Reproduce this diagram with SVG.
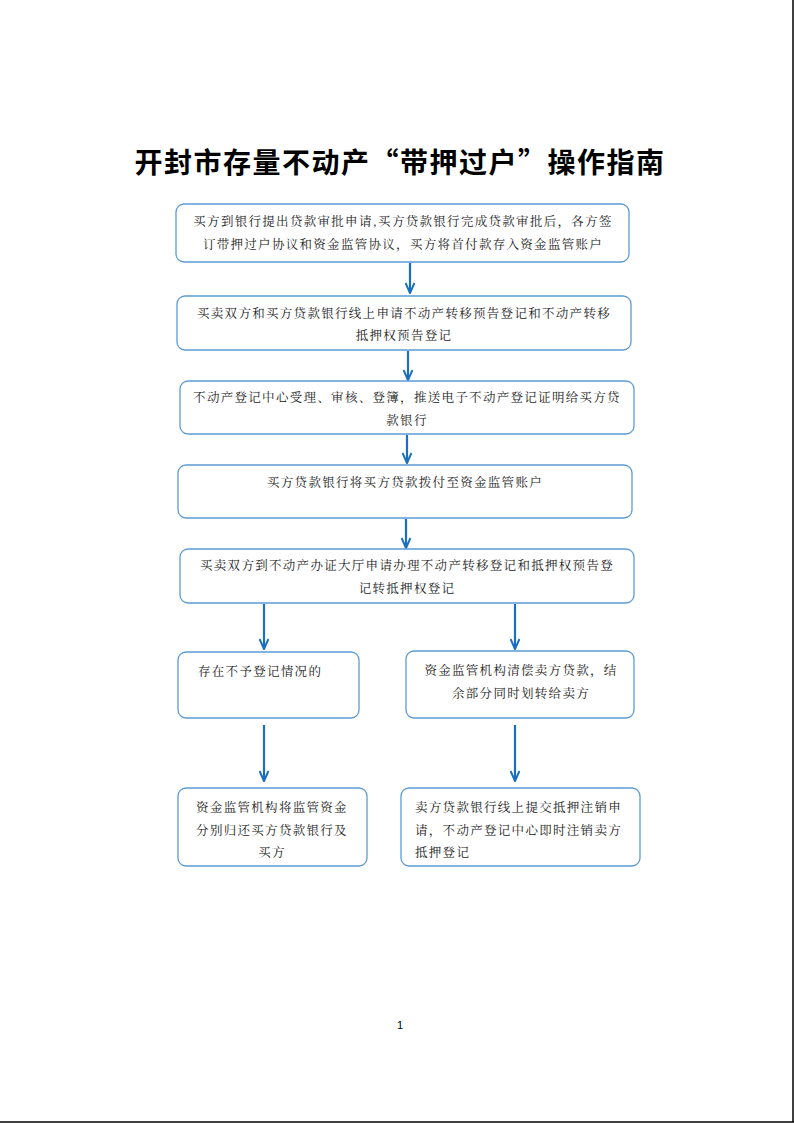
<svg xmlns="http://www.w3.org/2000/svg" width="794" height="1123" viewBox="0 0 794 1123">
<style>
.box{fill:#fff;stroke:#5b9bd5;stroke-width:1.3}
.t{font-family:"Noto Serif CJK SC","Noto Sans CJK SC",serif;font-size:12.5px;fill:#222;letter-spacing:1.3px}
.c{text-anchor:middle}
.title{font-family:"Noto Sans CJK SC",sans-serif;font-size:28px;font-weight:700;fill:#000;text-anchor:middle;letter-spacing:1.5px}
.arr{stroke:#1a6fc0;stroke-width:2.2;fill:none}
</style>
<defs>
<marker id="ah" viewBox="0 0 12 10" refX="11" refY="5" markerWidth="12" markerHeight="10" markerUnits="userSpaceOnUse" orient="auto">
<path d="M1,0.5 L11,5 L1,9.5" fill="none" stroke="#1a6fc0" stroke-width="2"/>
</marker>
</defs>
<rect width="794" height="1123" fill="#fff"/>
<line x1="793" y1="0" x2="793" y2="1122" stroke="#000" stroke-width="1.5"/>
<line x1="0" y1="1122" x2="794" y2="1122" stroke="#000" stroke-width="1.5"/>
<text class="title" x="400" y="173">开封市存量不动产“带押过户”操作指南</text>
<g id="connectors">
<line class="arr" x1="410" y1="263" x2="410" y2="293" marker-end="url(#ah)"/>
<line class="arr" x1="408" y1="351" x2="408" y2="380" marker-end="url(#ah)"/>
<line class="arr" x1="407" y1="435" x2="407" y2="463" marker-end="url(#ah)"/>
<line class="arr" x1="406" y1="519" x2="406" y2="548" marker-end="url(#ah)"/>
<line class="arr" x1="264" y1="604" x2="264" y2="649" marker-end="url(#ah)"/>
<line class="arr" x1="515" y1="604" x2="515" y2="649" marker-end="url(#ah)"/>
<line class="arr" x1="264" y1="725" x2="264" y2="781" marker-end="url(#ah)"/>
<line class="arr" x1="515" y1="725" x2="515" y2="781" marker-end="url(#ah)"/>
</g>
<g id="n1">
<rect class="box" x="176" y="204" width="453" height="58" rx="8"/>
<text class="t c" x="403" y="226">买方到银行提出贷款审批申请,买方贷款银行完成贷款审批后，各方签</text>
<text class="t c" x="403" y="249">订带押过户协议和资金监管协议，买方将首付款存入资金监管账户</text>
</g>
<g id="n2">
<rect class="box" x="177" y="296" width="454" height="54" rx="8"/>
<text class="t c" x="404" y="318">买卖双方和买方贷款银行线上申请不动产转移预告登记和不动产转移</text>
<text class="t c" x="404" y="340">抵押权预告登记</text>
</g>
<g id="n3">
<rect class="box" x="180" y="381" width="454" height="53" rx="8"/>
<text class="t c" x="407" y="402">不动产登记中心受理、审核、登簿，推送电子不动产登记证明给买方贷</text>
<text class="t c" x="407" y="425">款银行</text>
</g>
<g id="n4">
<rect class="box" x="178" y="465" width="454" height="53" rx="8"/>
<text class="t c" x="405" y="487">买方贷款银行将买方贷款拨付至资金监管账户</text>
</g>
<g id="n5">
<rect class="box" x="180" y="549" width="454" height="54" rx="8"/>
<text class="t c" x="407" y="570">买卖双方到不动产办证大厅申请办理不动产转移登记和抵押权预告登</text>
<text class="t c" x="407" y="593">记转抵押权登记</text>
</g>
<g id="n6l">
<rect class="box" x="178" y="652" width="181" height="66" rx="8"/>
<text class="t" x="198" y="676">存在不予登记情况的</text>
</g>
<g id="n6r">
<rect class="box" x="406" y="651" width="228" height="67" rx="8"/>
<text class="t c" x="521" y="675">资金监管机构清偿卖方贷款，结</text>
<text class="t c" x="521" y="698">余部分同时划转给卖方</text>
</g>
<g id="n7l">
<rect class="box" x="178" y="788" width="189" height="78" rx="8"/>
<text class="t c" x="272" y="812">资金监管机构将监管资金</text>
<text class="t c" x="272" y="835">分别归还买方贷款银行及</text>
<text class="t c" x="272" y="857">买方</text>
</g>
<g id="n7r">
<rect class="box" x="401" y="788" width="239" height="78" rx="8"/>
<text class="t" x="415" y="812">卖方贷款银行线上提交抵押注销申</text>
<text class="t" x="415" y="835">请，不动产登记中心即时注销卖方</text>
<text class="t" x="415" y="857">抵押登记</text>
</g>
<text x="400" y="1029" font-family="Liberation Sans,Arial,sans-serif" font-size="11" text-anchor="middle" fill="#000">1</text>
</svg>
